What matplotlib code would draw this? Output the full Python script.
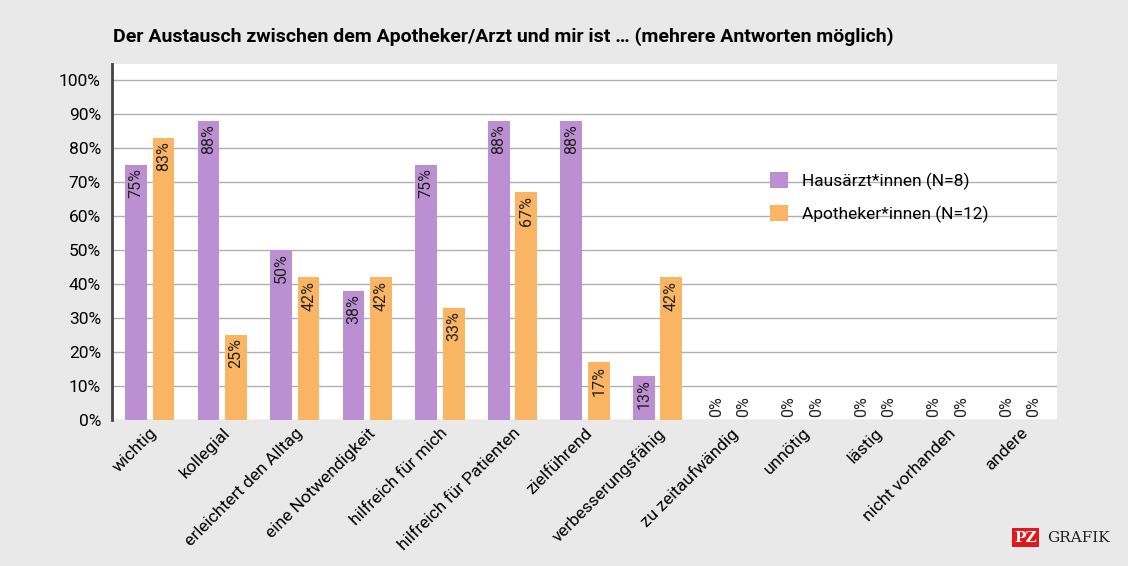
import numpy as np
import matplotlib
matplotlib.use("Agg")
import matplotlib.pyplot as plt

plt.rcParams['font.family'] = ['Liberation Sans Narrow', 'Roboto', 'DejaVu Sans']

categories = ["wichtig", "kollegial", "erleichtert den Alltag", "eine Notwendigkeit",
              "hilfreich für mich", "hilfreich für Patienten", "zielführend",
              "verbesserungsfähig", "zu zeitaufwändig", "unnötig", "lästig",
              "nicht vorhanden", "andere"]
hausaerzte = [75, 88, 50, 38, 75, 88, 88, 13, 0, 0, 0, 0, 0]
apotheker = [83, 25, 42, 42, 33, 67, 17, 42, 0, 0, 0, 0, 0]
yticks = list(range(0, 101, 10))

purple = "#bb8fd2"
orange = "#f9b563"
bg = "#e9e9e9"

fig = plt.figure(figsize=(11.28, 5.66), dpi=100, facecolor=bg)
ax = fig.add_axes([0.0993, 0.258, 0.838, 0.629])
ax.set_facecolor("white")

x = np.arange(len(categories))
w = 0.3
off = 0.19
ax.bar(x - off, hausaerzte, w, color=purple, label="Hausärzt*innen (N=8)", zorder=3)
ax.bar(x + off, apotheker, w, color=orange, label="Apotheker*innen (N=12)", zorder=3)

for xs, vals in ((x - off, hausaerzte), (x + off, apotheker)):
    for xi, v in zip(xs, vals):
        if v == 0:
            ax.text(xi, 1, "0%", rotation=90, ha="center", va="bottom", fontsize=11.5,
                    color="#222222", zorder=4)
        else:
            ax.text(xi, v - 1, f"{v}%", rotation=90, ha="center", va="top", fontsize=11.5,
                    color="#222222", zorder=4)

ax.set_xlim(-0.52, 12.51)
ax.set_ylim(0, 104.7)
ax.set_yticks(yticks)
ax.set_yticklabels([f"{t}%" for t in yticks], fontsize=12.5)
ax.yaxis.grid(True, color="#b0b0b0", linewidth=1, zorder=0)
ax.tick_params(axis="y", length=0, pad=8)
ax.tick_params(axis="x", length=0, pad=4)
ax.set_xticks(x)
ax.set_xticklabels(categories, rotation=45, ha="right", rotation_mode="anchor", fontsize=12.5)
for s in ["top", "right", "bottom"]:
    ax.spines[s].set_visible(False)
ax.spines["left"].set_color("#444444")
ax.spines["left"].set_linewidth(2)

ax.legend(loc="upper left", bbox_to_anchor=(0.68, 0.74), frameon=False, fontsize=12.5,
          handlelength=1.0, handleheight=1.0, labelspacing=0.9)

fig.text(0.1, 0.935, "Der Austausch zwischen dem Apotheker/Arzt und mir ist … (mehrere Antworten möglich)",
         fontsize=14, fontweight="bold", va="center")
fig.text(0.899, 0.05, "PZ", fontsize=11, fontweight="bold", color="white", va="center", ha="left",
         family="DejaVu Serif", bbox=dict(boxstyle="square,pad=0.15", fc="#e3171b", ec="none"))
fig.text(0.928, 0.05, "GRAFIK", fontsize=11, color="#222222", va="center", ha="left", family="DejaVu Serif")

fig.savefig("out.png", dpi=100, facecolor=bg)
